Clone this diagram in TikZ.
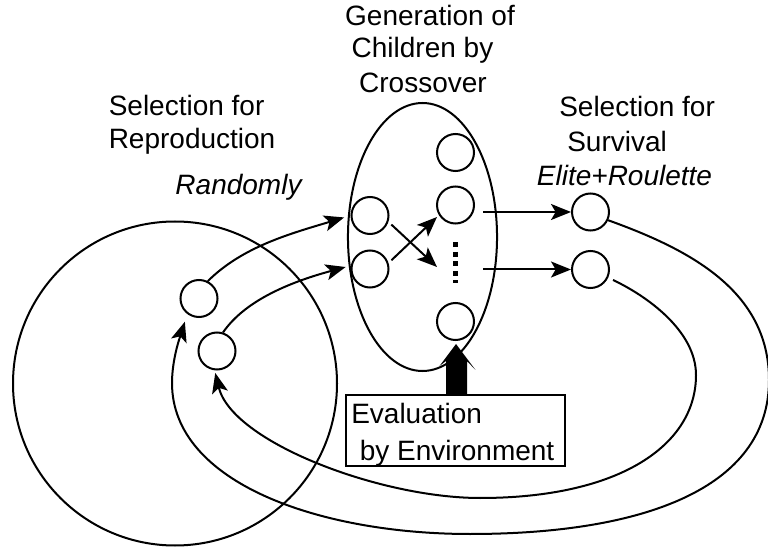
\documentclass[tikz,border=0pt]{standalone}
\usepackage{fontspec}
\setmainfont{Liberation Sans}
\usetikzlibrary{arrows.meta,shapes.geometric}
\begin{document}
\begin{tikzpicture}[x=0.75pt,y=-0.75pt,
  lw/.style={line width=1.5pt},
  arr/.style={-{Stealth[length=15pt,width=12pt,inset=3.5pt]}},
  indiv/.style={circle,draw,line width=1.5pt,minimum size=27.75pt,inner sep=0pt},
  lbl/.style={inner sep=0pt,font=\fontsize{21pt}{25pt}\selectfont},
]
\useasboundingbox (0,0) rectangle (768,552);
% population circle and crossover ellipse
\coordinate (pop) at (175,383.5);
\coordinate (gen) at (422.5,237);
\draw[lw] (pop) circle[x radius=121.5pt, y radius=121.5pt];
\draw[lw] (gen) ellipse[x radius=55.9pt, y radius=100.5pt];
% individuals
\node[indiv] (L1) at (199,298.5) {};
\node[indiv] (L2) at (217,351) {};
\node[indiv] (E1) at (370,215.5) {};
\node[indiv] (E2) at (370,269) {};
\node[indiv] (E3) at (455.5,152.5) {};
\node[indiv] (E4) at (455.5,205) {};
\node[indiv] (E5) at (455.5,321.5) {};
\node[indiv] (S1) at (590.5,212) {};
\node[indiv] (S2) at (590.5,269.5) {};
% evaluation box
\node[draw,lw,minimum width=164.25pt,minimum height=53.25pt,inner sep=0pt] (eval) at (455.5,430.5) {};
% texts
\node[lbl,anchor=base] (g1) at (430,25.5) {Generation of};
\node[lbl,anchor=base] (g2) at (422.5,57.5) {Children by};
\node[lbl,anchor=base] (g3) at (423,92.5) {Crossover};
\node[lbl,anchor=base west] (r1) at (108.5,115.7) {Selection for};
\node[lbl,anchor=base west] (r2) at (108.5,149) {Reproduction};
\node[lbl,anchor=base] (r3) at (238.5,194.5) {\itshape Randomly};
\node[lbl,anchor=base west] (s1) at (559,116.7) {Selection for};
\node[lbl,anchor=base west] (s2) at (567,151.5) {Survival};
\node[lbl,anchor=base] (s3) at (624.5,186) {\itshape Elite+Roulette};
\node[lbl,anchor=base west] (v1) at (351,423) {Evaluation};
\node[lbl,anchor=base west] (v2) at (359.5,460) {by Environment};
% coordinates
\coordinate (x1) at (437,267);
\coordinate (x2) at (437,217);
\coordinate (h1) at (483,212);
\coordinate (h2) at (483,269.5);
% forward arrows
\draw[lw,arr,shorten >=5pt] (L1.63) .. controls (243,246) and (293,233) .. (E1.west);
\draw[lw,arr,shorten >=4pt] (L2.72) .. controls (246,299) and (294,281) .. (E2.170);
\draw[lw,arr,shorten <=3pt] (E1.-19) -- (x1);
\draw[lw,arr,shorten <=3pt] (E2.18) -- (x2);
\draw[lw,arr] (h1) -- (S1.west);
\draw[lw,arr] (h2) -- (S2.west);
% dots
\draw[line width=3.75pt,dash pattern=on 3.75pt off 3.375pt,shorten <=13.5pt,shorten >=13.9pt] (E4.south) -- (E5.north);
% return curves
\draw[lw,arr,shorten >=6pt] (S1.-25) .. controls (688,249) and (769,290) .. (769,380)
  .. controls (769,490) and (640,534) .. (470,534)
  .. controls (320,534) and (172,483) .. (172,383)
  .. controls (172,358) and (181,334) .. (L1.-127);
\draw[lw,arr,shorten <=4pt,shorten >=2pt] (S2.-25) .. controls (645,295) and (696,330) .. (696,375)
  .. controls (696,445) and (620,498) .. (480,498)
  .. controls (380,498) and (232,442) .. (L2.-97);
% bold evaluation arrow
\fill[shift={(eval.north)}] (-9.5,0) -- (-9.5,-33) -- (-16,-28) -- (0.5,-50) -- (20,-24) -- (11.5,-33) -- (11.5,0) -- cycle;
\end{tikzpicture}
\end{document}
